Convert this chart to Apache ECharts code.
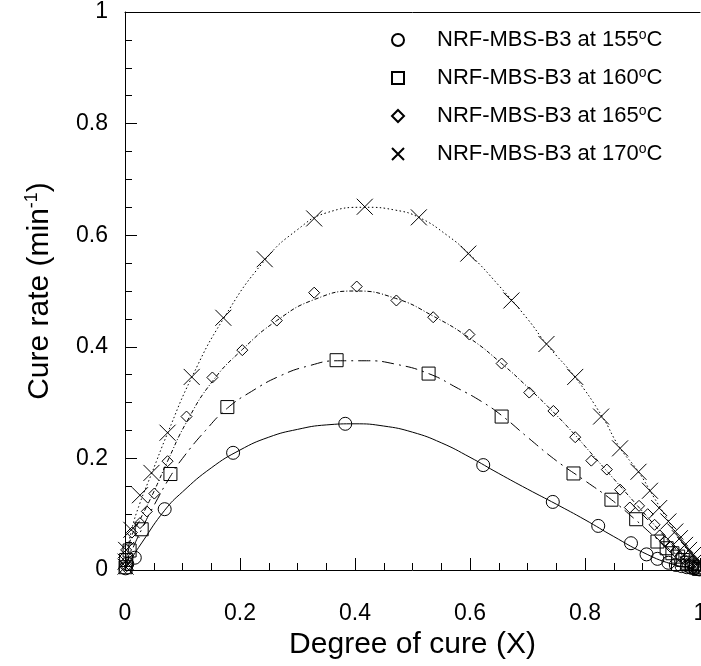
<!DOCTYPE html>
<html>
<head>
<meta charset="utf-8">
<script src="https://cdn.jsdelivr.net/npm/echarts@6/dist/echarts.min.js"></script>
<style>
  html, body { margin: 0; padding: 0; background: #fff; }
  #chart { width: 701px; height: 666px; }
</style>
</head>
<body>
<div id="chart"></div>
<script>
// measured points [degree of cure, cure rate]
const temps = ['155', '160', '165', '170'];

const pts155 = [[0.001, 0.003], [0.004, 0.011], [0.017, 0.022], [0.069, 0.109], [0.188, 0.210],
  [0.383, 0.262], [0.623, 0.188], [0.744, 0.122], [0.823, 0.079], [0.880, 0.048], [0.907, 0.028],
  [0.926, 0.020], [0.945, 0.013], [0.958, 0.009], [0.968, 0.007], [0.977, 0.005], [0.985, 0.004],
  [0.991, 0.003], [0.996, 0.002], [0.999, 0.001]];

const pts160 = [[0.001, 0.005], [0.002, 0.018], [0.008, 0.035], [0.029, 0.073], [0.079, 0.172],
  [0.178, 0.292], [0.368, 0.376], [0.528, 0.352], [0.655, 0.275], [0.780, 0.173], [0.846, 0.126],
  [0.889, 0.091], [0.926, 0.051], [0.942, 0.039], [0.952, 0.030], [0.962, 0.024], [0.970, 0.018],
  [0.978, 0.013], [0.986, 0.008], [0.993, 0.005], [0.998, 0.002]];

const pts165 = [[0.001, 0.005], [0.002, 0.036], [0.012, 0.067], [0.026, 0.084], [0.038, 0.105],
  [0.051, 0.137], [0.074, 0.195], [0.107, 0.275], [0.152, 0.345], [0.204, 0.394], [0.264, 0.447],
  [0.329, 0.497], [0.403, 0.508], [0.472, 0.483], [0.536, 0.453], [0.599, 0.422], [0.655, 0.370],
  [0.703, 0.318], [0.745, 0.285], [0.783, 0.238], [0.811, 0.196], [0.838, 0.180], [0.861, 0.144],
  [0.878, 0.112], [0.894, 0.115], [0.909, 0.100], [0.921, 0.081], [0.930, 0.062], [0.939, 0.051],
  [0.948, 0.042], [0.957, 0.033], [0.965, 0.024], [0.974, 0.018], [0.981, 0.012], [0.989, 0.008],
  [0.996, 0.004]];

const pts170 = [[0.001, 0.006], [0.001, 0.015], [0.002, 0.036], [0.011, 0.072], [0.026, 0.134],
  [0.046, 0.174], [0.074, 0.246], [0.116, 0.346], [0.171, 0.452], [0.243, 0.557], [0.329, 0.630],
  [0.417, 0.651], [0.511, 0.632], [0.597, 0.567], [0.672, 0.483], [0.733, 0.405], [0.783, 0.346],
  [0.828, 0.275], [0.861, 0.218], [0.893, 0.176], [0.913, 0.142], [0.929, 0.111], [0.945, 0.087],
  [0.957, 0.069], [0.965, 0.057], [0.974, 0.045], [0.981, 0.036], [0.988, 0.027], [0.994, 0.019],
  [0.998, 0.012], [1.0, 0.006]];

// fitted model curves
const fit155 = [[0, 0], [0.01, 0.018], [0.03, 0.05], [0.069, 0.107], [0.1, 0.140], [0.15, 0.183],
  [0.2, 0.215], [0.25, 0.238], [0.3, 0.252], [0.35, 0.260], [0.4, 0.262], [0.45, 0.258], [0.5, 0.247],
  [0.55, 0.228], [0.6, 0.202], [0.65, 0.173], [0.7, 0.145], [0.75, 0.118], [0.8, 0.090], [0.85, 0.060],
  [0.9, 0.032], [0.95, 0.011], [1.0, 0]];

const fit160 = [[0, 0], [0.01, 0.03], [0.03, 0.075], [0.05, 0.115], [0.079, 0.168], [0.1, 0.200],
  [0.14, 0.250], [0.178, 0.290], [0.22, 0.320], [0.27, 0.348], [0.32, 0.366], [0.37, 0.375],
  [0.42, 0.375], [0.47, 0.369], [0.528, 0.352], [0.58, 0.325], [0.62, 0.302], [0.655, 0.277],
  [0.7, 0.238], [0.75, 0.196], [0.8, 0.160], [0.846, 0.126], [0.889, 0.089], [0.926, 0.055],
  [0.96, 0.027], [1.0, 0]];

const fit165 = [[0, 0], [0.005, 0.03], [0.012, 0.062], [0.026, 0.09], [0.05, 0.14], [0.074, 0.195],
  [0.107, 0.265], [0.152, 0.338], [0.204, 0.395], [0.264, 0.447], [0.33, 0.485], [0.4, 0.500],
  [0.47, 0.487], [0.536, 0.455], [0.6, 0.415], [0.655, 0.370], [0.7, 0.328], [0.745, 0.283],
  [0.78, 0.245], [0.81, 0.210], [0.84, 0.175], [0.87, 0.140], [0.9, 0.105], [0.93, 0.070],
  [0.96, 0.036], [1.0, 0]];

const fit170 = [[0, 0], [0.005, 0.035], [0.011, 0.07], [0.026, 0.12], [0.046, 0.172], [0.074, 0.245],
  [0.116, 0.345], [0.171, 0.450], [0.243, 0.555], [0.3, 0.610], [0.35, 0.640], [0.417, 0.650],
  [0.47, 0.645], [0.511, 0.632], [0.56, 0.600], [0.6, 0.565], [0.65, 0.510], [0.7, 0.450],
  [0.733, 0.405], [0.783, 0.345], [0.83, 0.275], [0.86, 0.220], [0.893, 0.176], [0.92, 0.130],
  [0.95, 0.080], [0.975, 0.040], [1.0, 0]];

const FONT = 'Liberation Sans, Arial, sans-serif';

// hollow marker shapes
const symCircle = 'path://M10,0A10,10,0,1,1,9.99,0Z';
const symSquare = 'path://M0,0L10,0L10,10L0,10Z';
const symDiamond = 'path://M5,0L10,5L5,10L0,5Z';
const symCross = 'path://M0,0L10,10M10,0L0,10';

const markers = [
  { pts: pts155, fit: fit155, symbol: symCircle, size: 13, dash: 'solid' },
  { pts: pts160, fit: fit160, symbol: symSquare, size: 13, dash: [12, 5, 2, 5] },
  { pts: pts165, fit: fit165, symbol: symDiamond, size: 11, dash: [4, 2, 1, 2] },
  { pts: pts170, fit: fit170, symbol: symCross, size: 16, dash: [1.5, 2.5] }
];

const names = temps.map(t => 'NRF-MBS-B3 at ' + t + '°C');

const series = [];
markers.forEach((m, i) => {
  series.push({
    name: 'fit' + temps[i],
    type: 'line',
    data: m.fit,
    smooth: 0.5,
    showSymbol: false,
    silent: true,
    lineStyle: { color: '#000', width: 1, type: m.dash },
    z: 2
  });
  series.push({
    name: names[i],
    type: 'scatter',
    data: m.pts,
    symbol: m.symbol,
    symbolSize: m.size,
    symbolKeepAspect: true,
    itemStyle: { color: 'rgba(0,0,0,0)', borderColor: '#000', borderWidth: 1, opacity: 1 },
    clip: false,
    z: 3
  });
});

const chart = echarts.init(document.getElementById('chart'));
chart.setOption({
  animation: false,
  backgroundColor: '#fff',
  textStyle: { fontFamily: FONT },
  grid: { left: 125, right: 1, top: 12, bottom: 96, outerBoundsMode: 'none', containLabel: false },
  legend: {
    data: names,
    orient: 'vertical',
    left: 386,
    top: 23,
    itemWidth: 68,
    itemHeight: 12,
    itemGap: 14,
    symbolKeepAspect: true,
    formatter: n => n.replace('°', '{sup|o}'),
    textStyle: {
      fontFamily: FONT, fontSize: 22, color: '#000', lineHeight: 24,
      rich: { sup: { fontFamily: FONT, fontSize: 14, verticalAlign: 'top', lineHeight: 12 } }
    }
  },
  xAxis: [{
    type: 'value',
    min: 0, max: 1, interval: 0.2,
    name: 'Degree of cure (X)',
    nameLocation: 'middle',
    nameGap: 55,
    nameTextStyle: { fontFamily: FONT, fontSize: 30, color: '#000' },
    axisLine: { show: true, onZero: false, lineStyle: { color: '#000', width: 1 } },
    axisTick: { show: true, inside: true, length: 12, lineStyle: { color: '#000' } },
    minorTick: { show: true, splitNumber: 4, length: 7, lineStyle: { color: '#000' } },
    splitLine: { show: false },
    axisLabel: { fontFamily: FONT, fontSize: 23, color: '#000', margin: 32 }
  }, {
    type: 'value',
    position: 'top',
    min: 0, max: 1,
    axisLine: { show: true, onZero: false, lineStyle: { color: '#000', width: 1 } },
    axisTick: { show: false },
    axisLabel: { show: false },
    splitLine: { show: false }
  }],
  yAxis: {
    type: 'value',
    min: 0, max: 1, interval: 0.2,
    name: 'Cure rate (min{sup|-1})',
    nameLocation: 'middle',
    nameGap: 68,
    nameTextStyle: {
      fontFamily: FONT, fontSize: 30, color: '#000', lineHeight: 34,
      rich: { sup: { fontFamily: FONT, fontSize: 18, verticalAlign: 'top', lineHeight: 16 } }
    },
    axisLine: { show: true, onZero: false, lineStyle: { color: '#000', width: 1 } },
    axisTick: { show: true, inside: true, length: 12, lineStyle: { color: '#000' } },
    minorTick: { show: true, splitNumber: 4, length: 7, lineStyle: { color: '#000' } },
    splitLine: { show: false },
    axisLabel: { fontFamily: FONT, fontSize: 23, color: '#000', margin: 17 }
  },
  series: series
});
</script>
</body>
</html>
